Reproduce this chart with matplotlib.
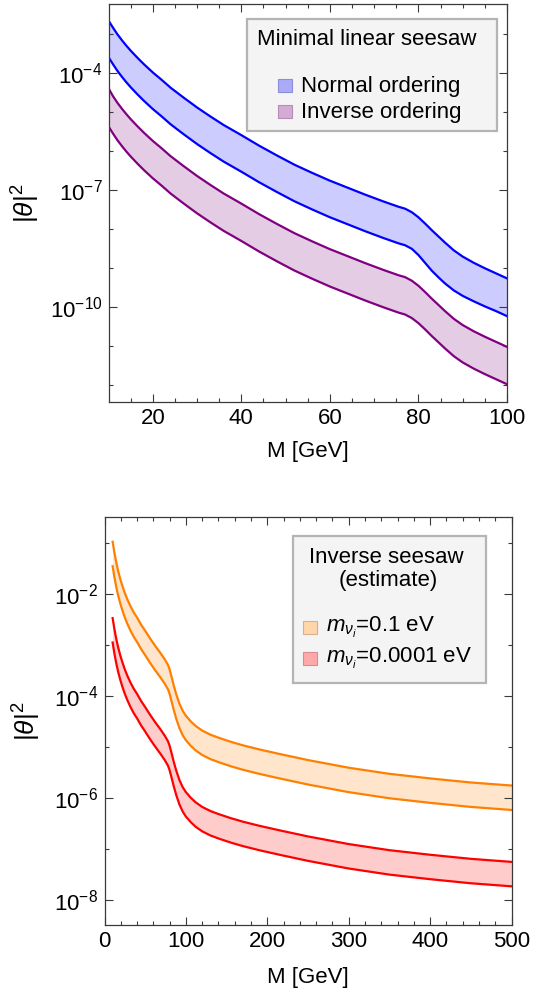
import numpy as np
import matplotlib
matplotlib.use('Agg')
import matplotlib.pyplot as plt
from matplotlib.patches import Rectangle
from matplotlib.ticker import FixedLocator, NullFormatter

plt.rcParams['font.family'] = ['Liberation Sans', 'DejaVu Sans']
plt.rcParams['mathtext.fontset'] = 'custom'
plt.rcParams['mathtext.rm'] = 'Liberation Sans'
plt.rcParams['mathtext.it'] = 'Liberation Sans:italic'
plt.rcParams['font.size'] = 16

# top panel: minimal linear seesaw, log10 |theta|^2 vs M [GeV]
M_lin = [10, 11, 12, 13, 14, 15, 16.5, 18, 20, 22, 24, 27, 30, 33, 36, 40, 44, 48, 52, 56,
         60, 64, 68, 72, 74, 75.5, 77, 78.5, 80, 81.5, 83, 84.5, 86, 88, 90, 92.5, 95, 97.5, 100]
no_hi = [-2.65, -2.83, -3.00, -3.15, -3.29, -3.42, -3.60, -3.77, -3.98, -4.17, -4.37, -4.63, -4.88,
         -5.11, -5.33, -5.59, -5.86, -6.11, -6.35, -6.56, -6.76, -6.94, -7.12, -7.29, -7.37, -7.43,
         -7.48, -7.57, -7.70, -7.86, -8.03, -8.19, -8.35, -8.55, -8.71, -8.87, -9.01, -9.14, -9.27]
no_lo = [-3.59, -3.77, -3.94, -4.09, -4.23, -4.36, -4.54, -4.71, -4.92, -5.11, -5.31, -5.57, -5.82,
         -6.05, -6.27, -6.53, -6.80, -7.05, -7.29, -7.50, -7.70, -7.88, -8.06, -8.23, -8.31, -8.37,
         -8.42, -8.51, -8.67, -8.87, -9.07, -9.24, -9.40, -9.58, -9.72, -9.86, -9.99, -10.11, -10.24]
io_hi = [-4.39, -4.59, -4.76, -4.91, -5.05, -5.18, -5.36, -5.53, -5.74, -5.93, -6.13, -6.39, -6.64,
         -6.87, -7.09, -7.35, -7.62, -7.87, -8.11, -8.32, -8.52, -8.70, -8.88, -9.05, -9.13, -9.19,
         -9.24, -9.33, -9.46, -9.62, -9.79, -9.95, -10.11, -10.31, -10.47, -10.63, -10.77, -10.90, -11.03]
io_lo = [-5.37, -5.55, -5.72, -5.87, -6.01, -6.14, -6.32, -6.49, -6.70, -6.89, -7.09, -7.35, -7.60,
         -7.83, -8.05, -8.31, -8.58, -8.83, -9.07, -9.28, -9.48, -9.66, -9.84, -10.01, -10.09, -10.15,
         -10.20, -10.29, -10.42, -10.58, -10.75, -10.91, -11.07, -11.27, -11.43, -11.59, -11.73, -11.86, -11.99]

# bottom panel: inverse seesaw estimate
M_inv = [10, 11, 12, 13.5, 15, 17, 19.5, 22, 25, 28, 32, 36, 40, 45, 50, 56, 62, 68, 74, 78,
         80, 82, 85, 88, 92, 96, 100, 106, 112, 120, 130, 140, 155, 170, 190, 215, 250, 300, 350, 400, 450, 500]
m01_hi = [-0.97, -1.07, -1.17, -1.30, -1.42, -1.56, -1.71, -1.84, -1.98, -2.10, -2.24, -2.36, -2.46, -2.60,
          -2.72, -2.87, -3.01, -3.14, -3.28, -3.39, -3.48, -3.60, -3.79, -3.96, -4.15, -4.29, -4.39, -4.50,
          -4.59, -4.68, -4.76, -4.82, -4.90, -4.97, -5.05, -5.14, -5.26, -5.41, -5.53, -5.62, -5.70, -5.76]
m01_lo = [-1.45, -1.55, -1.65, -1.78, -1.90, -2.04, -2.19, -2.32, -2.46, -2.58, -2.72, -2.84, -2.94, -3.08,
          -3.20, -3.35, -3.49, -3.62, -3.76, -3.87, -3.96, -4.08, -4.27, -4.44, -4.63, -4.77, -4.87, -4.98,
          -5.07, -5.16, -5.24, -5.30, -5.38, -5.45, -5.53, -5.62, -5.74, -5.89, -6.01, -6.10, -6.18, -6.24]
m1e4_hi = [-2.47, -2.57, -2.67, -2.80, -2.92, -3.06, -3.21, -3.34, -3.48, -3.60, -3.74, -3.86, -3.96, -4.10,
           -4.22, -4.37, -4.51, -4.64, -4.78, -4.89, -4.98, -5.10, -5.29, -5.46, -5.65, -5.79, -5.89, -6.00,
           -6.09, -6.18, -6.26, -6.32, -6.40, -6.47, -6.55, -6.64, -6.76, -6.91, -7.03, -7.12, -7.20, -7.26]
m1e4_lo = [-2.95, -3.05, -3.15, -3.28, -3.40, -3.54, -3.69, -3.82, -3.96, -4.08, -4.22, -4.34, -4.44, -4.58,
           -4.70, -4.85, -4.99, -5.12, -5.26, -5.37, -5.46, -5.58, -5.77, -5.94, -6.13, -6.27, -6.37, -6.48,
           -6.57, -6.66, -6.74, -6.80, -6.88, -6.95, -7.03, -7.12, -7.24, -7.39, -7.51, -7.60, -7.68, -7.74]

W, H = 537, 989
fig = plt.figure(figsize=(W / 100, H / 100), dpi=100)
ax1 = fig.add_axes([108.6 / W, 1 - 401.7 / H, 398.3 / W, 397.7 / H])
ax2 = fig.add_axes([104.5 / W, 1 - 925 / H, 407 / W, 407.7 / H])

frame = '#3a3a3a'


def band(ax, x, hi, lo, color):
    hi = np.power(10.0, hi)
    lo = np.power(10.0, lo)
    ax.fill_between(x, lo, hi, color=color, alpha=0.2, lw=0)
    ax.plot(x, hi, color=color, lw=1.6, solid_joinstyle='round')
    ax.plot(x, lo, color=color, lw=1.6, solid_joinstyle='round')


def style(ax, majors, minors, xmaj, xmin):
    ax.set_yscale('log')
    ax.yaxis.set_major_locator(FixedLocator([10.0 ** e for e in majors]))
    ax.yaxis.set_major_formatter(plt.FuncFormatter(
        lambda v, p: '$\\mathregular{10^{%d}}$' % round(np.log10(v))))
    ax.yaxis.set_minor_locator(FixedLocator([10.0 ** e for e in minors]))
    ax.yaxis.set_minor_formatter(NullFormatter())
    ax.xaxis.set_major_locator(FixedLocator(xmaj))
    ax.xaxis.set_minor_locator(FixedLocator(xmin))
    ax.tick_params(which='both', direction='in', top=True, right=True, color=frame, width=0.8)
    ax.tick_params(which='major', length=5.5, pad=4.5)
    ax.tick_params(which='minor', length=3)
    for s in ax.spines.values():
        s.set_color(frame)
        s.set_linewidth(0.9)


band(ax1, M_lin, no_hi, no_lo, '#0000ff')
band(ax1, M_lin, io_hi, io_lo, '#800080')
ax1.set_xlim(10, 100)
style(ax1, [-4, -7, -10], range(-12, -1), [20, 40, 60, 80, 100], range(15, 100, 5))
ax1.set_ylim(10 ** -12.44, 10 ** -2.22)

band(ax2, M_inv, m01_hi, m01_lo, '#ff8000')
band(ax2, M_inv, m1e4_hi, m1e4_lo, '#ff0000')
ax2.set_xlim(0, 500)
style(ax2, [-2, -4, -6, -8], [-1, -3, -5, -7], [0, 100, 200, 300, 400, 500], range(20, 500, 20))
ax2.set_ylim(10 ** -8.50, 10 ** -0.49)

for ax, lx, ly in [(ax1, -0.168, -0.098), (ax2, -0.152, -0.104)]:
    ax.set_xlabel('M [GeV]')
    ax.set_ylabel('$|\\theta|^2$', fontsize=19)
    ax.xaxis.set_label_coords(0.5, ly)
    ax.yaxis.set_label_coords(lx, 0.5)


def fx(x):
    return x / W


def fy(y):
    return 1 - y / H


def box(x0, y0, x1, y1, fc, ec, lw):
    fig.patches.append(Rectangle((fx(x0), fy(y1)), fx(x1) - fx(x0), fy(y0) - fy(y1),
                                 transform=fig.transFigure, facecolor=fc, edgecolor=ec,
                                 lw=lw, zorder=5))


# legend, top panel
box(246.7, 19.5, 496.7, 130.7, '#f4f4f4', '#b4b4b4', 1.6)
fig.text(fx(256.9), fy(45), 'Minimal linear seesaw', va='baseline', ha='left', zorder=6)
box(277.5, 78.5, 291.9, 92, '#aaaaf8', '#8c8cd8', 0.8)
fig.text(fx(300.8), fy(92), 'Normal ordering', va='baseline', ha='left', zorder=6)
box(277.5, 104.5, 291.9, 118, '#d5aad5', '#b48cb4', 0.8)
fig.text(fx(300.8), fy(118), 'Inverse ordering', va='baseline', ha='left', zorder=6)

# legend, bottom panel
box(292.9, 536, 485.8, 682.7, '#f4f4f4', '#b4b4b4', 1.6)
fig.text(fx(386.5), fy(562.7), 'Inverse seesaw', va='baseline', ha='center', zorder=6)
fig.text(fx(388), fy(586), '(estimate)', va='baseline', ha='center', zorder=6)
box(303.2, 620.5, 316.9, 634, '#ffd5aa', '#d8b08c', 0.8)
fig.text(fx(325.5), fy(632.3), '$m_{\\nu_i}$=0.1 eV', va='baseline', ha='left', zorder=6)
box(303.2, 651.5, 316.9, 665, '#ffaaaa', '#d88c8c', 0.8)
fig.text(fx(325.5), fy(663.3), '$m_{\\nu_i}$=0.0001 eV', va='baseline', ha='left', zorder=6)

fig.savefig('out.png', dpi=100)
